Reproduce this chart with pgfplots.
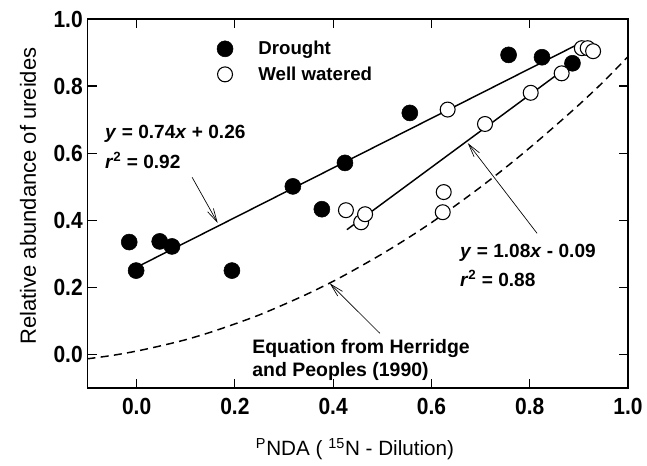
\documentclass[border=0pt]{standalone}
\usepackage{fontspec}
\setmainfont{Liberation Sans}
\newfontfamily\mytickfont{Liberation Sans}[FakeStretch=0.9]
\usepackage{pgfplots}
\pgfplotsset{compat=1.18}
\usetikzlibrary{arrows.meta}

\begin{document}
\begin{tikzpicture}
\begin{axis}[
  scale only axis, width=405.4pt, height=276.75pt,
  xmin=-0.1, xmax=1.0, ymin=-0.1, ymax=1.0,
  xtick={0,0.2,0.4,0.6,0.8,1.0}, ytick={0,0.2,0.4,0.6,0.8,1.0},
  xtick pos=both, ytick pos=both,
  tick align=inside, major tick length=7pt,
  axis line style={line width=1.1pt},
  every tick/.style={line width=0.9pt, black},
  /pgf/number format/fixed, /pgf/number format/fixed zerofill,
  /pgf/number format/precision=1, /pgf/number format/assume math mode=true,
  tick label style={font=\mytickfont\bfseries\fontsize{17.5}{17.5}\selectfont},
  xticklabel style={yshift=-4pt},
  ylabel={Relative abundance of ureides},
  ylabel style={at={(axis description cs:-0.110,0.52)}, anchor=center, font=\fontsize{16.5}{19}\selectfont},
  xlabel={\textsuperscript{P}NDA ( \textsuperscript{15}N - Dilution)},
  xlabel style={at={(axis description cs:0.495,-0.165)}, anchor=center, font=\fontsize{15.5}{18}\selectfont},
  legend style={at={(axis cs:0.155,0.873)}, anchor=west, draw=none, fill=none,
    font=\bfseries\fontsize{14}{14}\selectfont, row sep=3.5pt,
    /tikz/every odd column/.append style={column sep=17pt}},
  legend cell align=left,
  clip=false,
]
% regression lines
\addplot[black, line width=1.1pt, forget plot] coordinates {(0.0,0.26) (0.90,0.926)};
\addplot[black, line width=1.1pt, forget plot] coordinates {(0.428,0.372) (0.90,0.882)};
% Drought
\addplot[only marks, mark=*, mark size=6pt, black] coordinates {
(-0.015,0.335) (-0.001,0.250) (0.047,0.337) (0.072,0.322) (0.194,0.250)
(0.318,0.501) (0.377,0.433) (0.424,0.571) (0.556,0.720) (0.757,0.893)
(0.825,0.886) (0.887,0.868)};
\addlegendentry{Drought}
% Well watered
\addplot[only marks, mark=*, mark size=5.6pt, black, line width=0.8pt, mark options={fill=white}] coordinates {
(0.426,0.430) (0.457,0.394) (0.465,0.418) (0.623,0.424) (0.625,0.484)
(0.633,0.730) (0.709,0.687) (0.802,0.780) (0.865,0.838) (0.906,0.913)
(0.918,0.913) (0.929,0.904)};
\addlegendentry{Well watered}
% Herridge and Peoples (1990)
\addplot[black, line width=1.1pt, dash pattern=on 6pt off 4pt, smooth, forget plot] coordinates {
(-0.10,-0.013) (-0.05,-0.003) (0.00,0.010) (0.05,0.026) (0.10,0.044)
(0.15,0.066) (0.20,0.091) (0.25,0.118) (0.30,0.149) (0.35,0.182)
(0.40,0.218) (0.45,0.258) (0.50,0.300) (0.55,0.345) (0.60,0.393)
(0.65,0.445) (0.70,0.499) (0.75,0.556) (0.80,0.616) (0.85,0.679)
(0.90,0.744) (0.95,0.813) (1.00,0.888)};
% annotations
\node[anchor=base west, font=\bfseries\fontsize{14.3}{14.3}\selectfont, inner sep=0pt] at (axis cs:-0.0645,0.645) {\textit{y} = 0.74\textit{x} + 0.26};
\node[anchor=base west, font=\bfseries\fontsize{14.3}{14.3}\selectfont, inner sep=0pt] at (axis cs:-0.0645,0.555) {\textit{r}\textsuperscript{2} = 0.92};
\node[anchor=base west, font=\bfseries\fontsize{14.3}{14.3}\selectfont, inner sep=0pt] at (axis cs:0.658,0.290) {\textit{y} = 1.08\textit{x} - 0.09};
\node[anchor=base west, font=\bfseries\fontsize{14.3}{14.3}\selectfont, inner sep=0pt] at (axis cs:0.658,0.203) {\textit{r}\textsuperscript{2} = 0.88};
\node[anchor=base west, font=\bfseries\fontsize{14.6}{14.6}\selectfont, inner sep=0pt] at (axis cs:0.235,0.003) {Equation from Herridge};
\node[anchor=base west, font=\bfseries\fontsize{14.6}{14.6}\selectfont, inner sep=0pt] at (axis cs:0.235,-0.066) {and Peoples (1990)};
% arrows
\draw[line width=0.5pt, -{Straight Barb[length=10pt,width=5pt,line width=0.5pt]}] (axis cs:0.113,0.528) -- (axis cs:0.165,0.392);
\draw[line width=0.5pt, -{Straight Barb[length=10pt,width=5pt,line width=0.5pt]}] (axis cs:0.815,0.361) -- (axis cs:0.674,0.630);
\draw[line width=0.5pt, -{Straight Barb[length=10pt,width=5pt,line width=0.5pt]}] (axis cs:0.495,0.063) -- (axis cs:0.393,0.212);
\end{axis}
\pgfresetboundingbox
\path ([xshift=-65.6pt,yshift=-58.5pt]current axis.south west) rectangle ([xshift=14.25pt,yshift=14.25pt]current axis.north east);
\end{tikzpicture}
\end{document}
